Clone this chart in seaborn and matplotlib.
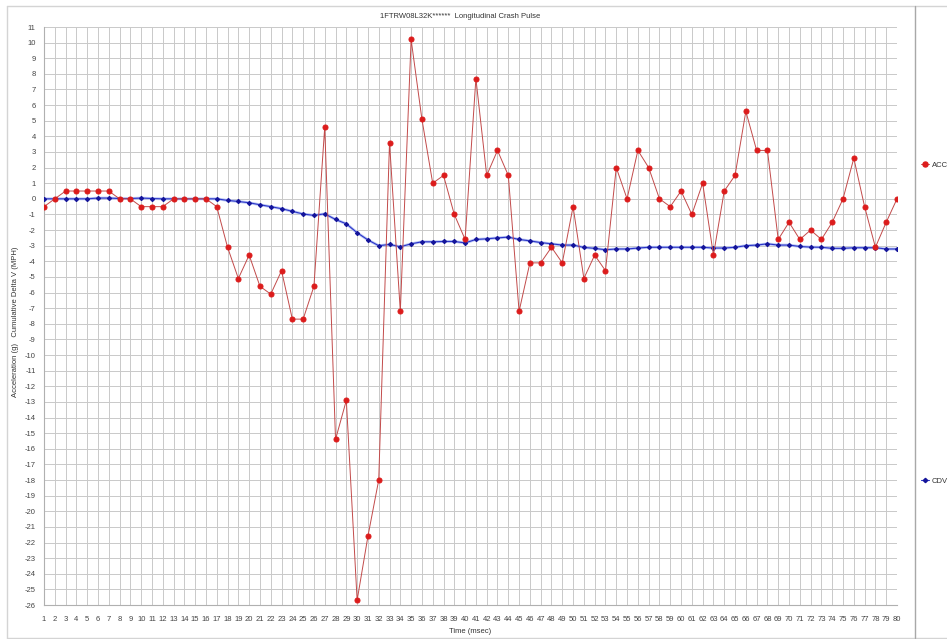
import numpy as np
import pandas as pd
import matplotlib.pyplot as plt
import seaborn as sb
from matplotlib.lines import Line2D

# time axis (msec)
time_ms = list(range(1, 81))

# longitudinal acceleration (g)
acc = [-0.5, 0, 0.5, 0.5, 0.5, 0.5, 0.5, 0, 0, -0.5,
       -0.5, -0.5, 0, 0, 0, 0, -0.5, -3.1, -5.1, -3.6,
       -5.6, -6.1, -4.6, -7.7, -7.7, -5.6, 4.6, -15.4, -12.9, -25.7,
       -21.6, -18.0, 3.6, -7.2, 10.2, 5.1, 1.0, 1.5, -1.0, -2.6,
       7.7, 1.5, 3.1, 1.5, -7.2, -4.1, -4.1, -3.1, -4.1, -0.5,
       -5.1, -3.6, -4.6, 2.0, 0, 3.1, 2.0, 0, -0.5, 0.5,
       -1.0, 1.0, -3.6, 0.5, 1.5, 5.6, 3.1, 3.1, -2.6, -1.5,
       -2.6, -2.0, -2.6, -1.5, 0, 2.6, -0.5, -3.1, -1.5, 0]

# cumulative delta V (MPH)
cdv = [0, 0, 0, 0, 0, 0.05, 0.05, 0.02, 0.02, 0.05,
       0.02, 0, 0, 0, 0, 0, 0, -0.1, -0.17, -0.25,
       -0.38, -0.5, -0.63, -0.8, -0.97, -1.06, -0.96, -1.32, -1.6, -2.17,
       -2.63, -3.0, -2.92, -3.07, -2.88, -2.75, -2.75, -2.73, -2.73, -2.82,
       -2.6, -2.56, -2.5, -2.45, -2.6, -2.69, -2.8, -2.88, -2.96, -2.96,
       -3.11, -3.17, -3.26, -3.21, -3.21, -3.15, -3.1, -3.1, -3.1, -3.1,
       -3.1, -3.1, -3.15, -3.15, -3.1, -3.0, -2.96, -2.88, -2.96, -2.96,
       -3.05, -3.09, -3.1, -3.17, -3.17, -3.13, -3.13, -3.13, -3.21, -3.21]

title = "1FTRW08L32K******  Longitudinal Crash Pulse"

df = pd.DataFrame({"Time": time_ms, "ACC": acc, "CDV": cdv})

sb.set_theme(style="whitegrid")
plt.rcParams['font.family'] = ['Liberation Sans', 'DejaVu Sans']
plt.rcParams['axes.unicode_minus'] = False

fig = plt.figure(figsize=(9.47, 6.39), dpi=100)
ax = fig.add_axes([44/947, 34/639, 853/947, 578/639])

# CDV: light halo under a thin blue line
sb.lineplot(data=df, x="Time", y="CDV", ax=ax, color="#b8c4f4", linewidth=2.0, zorder=2)
sb.lineplot(data=df, x="Time", y="CDV", ax=ax, color="#2a34c8", linewidth=0.8,
            marker="D", markersize=2.2, markerfacecolor="#14149a", markeredgecolor="#14149a", zorder=3)
# ACC
sb.lineplot(data=df, x="Time", y="ACC", ax=ax, color="#c24a4a", linewidth=0.7,
            marker="o", markersize=3.6, markerfacecolor="#dc1c1c", markeredgecolor="#dc1c1c", zorder=4)

ax.set_xlim(1, 80)
ax.set_ylim(-26, 11)
ax.set_xticks(time_ms)
ax.set_yticks(range(-26, 12))
ax.tick_params(axis="x", labelsize=5.5, colors="#444444", length=0, pad=8)
ax.tick_params(axis="y", labelsize=5.5, colors="#444444", length=0, pad=6)
ax.grid(True, color="#c9c9c9", linewidth=0.7)
for s in ["top", "right"]:
    ax.spines[s].set_visible(False)
for s in ["left", "bottom"]:
    ax.spines[s].set_color("#b0b0b0")
    ax.spines[s].set_linewidth(0.8)
ax.set_xlabel("Time (msec)", fontsize=5.5, color="#333333")
ax.set_ylabel("Acceleration (g)   Cumulative Delta V (MPH)", fontsize=5.5, color="#333333")
ax.yaxis.set_label_coords(-25/853, 0.49)
ax.xaxis.set_label_coords(0.5, -23/578)

fig.text(460/947, 1 - 16/639, title, ha="center", va="center", fontsize=5.5, color="#333333")

# frame and legend separator
frame = dict(transform=fig.transFigure, color="#d4d4d4", linewidth=1)
fig.add_artist(Line2D([7/947, 1], [1 - 6/639, 1 - 6/639], **frame))
fig.add_artist(Line2D([7/947, 7/947], [1 - 6/639, 1/639], **frame))
fig.add_artist(Line2D([7/947, 1], [1/639, 1/639], **frame))
fig.add_artist(Line2D([915/947, 915/947], [1 - 6/639, 1/639], transform=fig.transFigure,
                      color="#a8a8a8", linewidth=1))

acc_h = Line2D([], [], color="#c24a4a", linewidth=0.7, marker="o", markersize=3.6,
               markerfacecolor="#dc1c1c", markeredgecolor="#dc1c1c")
cdv_h = Line2D([], [], color="#2a34c8", linewidth=0.8, marker="D", markersize=2.2,
               markerfacecolor="#14149a", markeredgecolor="#14149a")
leg_kw = dict(frameon=False, fontsize=5.5, handlelength=1.0, handletextpad=0.4,
              loc="center left", labelcolor="#333333", borderaxespad=0)
fig.legend([acc_h], ["ACC"], bbox_to_anchor=(918/947, 1 - 165/639), **leg_kw)
fig.legend([cdv_h], ["CDV"], bbox_to_anchor=(918/947, 1 - 481/639), **leg_kw)

plt.savefig("out.png", dpi=100)
